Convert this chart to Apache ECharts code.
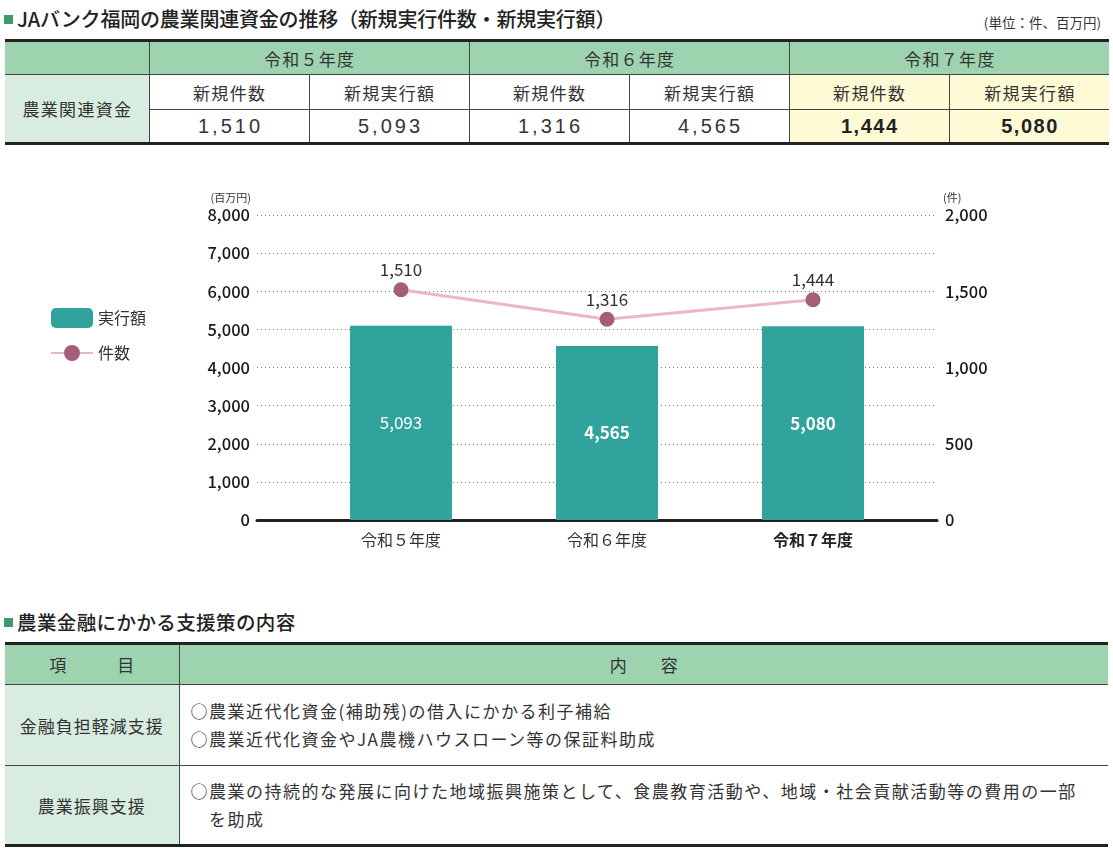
<!DOCTYPE html>
<html><head><meta charset="utf-8">
<script src="https://cdn.jsdelivr.net/npm/echarts@6/dist/echarts.min.js"></script>
<style>
html,body{margin:0;padding:0;background:#fff;}
body{width:1113px;height:851px;position:relative;overflow:hidden;font-family:"Noto Sans CJK JP","Noto Sans",sans-serif;color:#333;}
.ttl{position:absolute;left:4px;font-size:20px;font-weight:500;color:#222;white-space:nowrap;letter-spacing:-0.2px;}
.ttl .sq{display:inline-block;width:9px;height:9px;background:#3f9a6c;margin-right:4px;vertical-align:3px;}
.unit{position:absolute;right:12px;top:12px;font-size:13.5px;color:#333;}
table{position:absolute;border-collapse:collapse;table-layout:fixed;}
td{border:1px solid #444;padding:0;text-align:center;}
.t1{left:5px;top:39px;width:1103px;border-top:3px solid #222;border-bottom:3px solid #222;}
.t1 td{font-size:17px;color:#333;letter-spacing:1.3px;padding-left:1.3px;}
.t1 td.num{font-family:"Liberation Sans",Arial,sans-serif;font-size:20px;letter-spacing:3px;padding-left:3px;color:#333;}
.t1 td.num.b{font-weight:bold;letter-spacing:1.5px;padding-left:1.5px;color:#222;}
.hd{background:#9ed3af;}
.lb{background:#d8ede0;}
.yl{background:#fffad6;}
.t2{left:5px;top:642px;width:1103px;border-top:3px solid #222;border-bottom:3px solid #222;}
.t2 td{font-size:17px;letter-spacing:1px;}
.t2 .txt{text-align:left;padding-left:11px;line-height:28px;color:#333;letter-spacing:1.5px;}
.t1 tr td:first-child,.t2 tr td:first-child{border-left:none;}
.t1 tr td:last-child,.t2 tr td:last-child{border-right:none;}
#chart{position:absolute;left:0;top:150px;width:1113px;height:430px;}
</style></head>
<body>
<div class="ttl" style="top:4px;"><span class="sq"></span>JAバンク福岡の農業関連資金の推移（新規実行件数・新規実行額）</div>
<div class="unit">(単位：件、百万円)</div>
<table class="t1" id="t1"></table>
<div id="chart"></div>
<div class="ttl" style="top:607px;font-size:19.5px;letter-spacing:0.4px;"><span class="sq"></span>農業金融にかかる支援策の内容</div>
<table class="t2">
<colgroup><col style="width:174px"><col></colgroup>
<tr style="height:41px"><td class="hd" style="letter-spacing:0">項　　　目</td><td class="hd" style="letter-spacing:0">内　　容</td></tr>
<tr style="height:81px"><td class="lb">金融負担軽減支援</td><td class="txt">○農業近代化資金(補助残)の借入にかかる利子補給<br>○農業近代化資金やJA農機ハウスローン等の保証料助成</td></tr>
<tr style="height:80px"><td class="lb">農業振興支援</td><td class="txt">○農業の持続的な発展に向けた地域振興施策として、食農教育活動や、地域・社会貢献活動等の費用の一部<br>　を助成</td></tr>
</table>
<script>
// ---- data ----
var categories = ['令和５年度', '令和６年度', '令和７年度'];
var amountValues = [5093, 4565, 5080];   // 新規実行額（百万円）
var countValues = [1510, 1316, 1444];    // 新規件数（件）
var leftTicks = ['0','1,000','2,000','3,000','4,000','5,000','6,000','7,000','8,000'];
var rightTicks = ['0','500','1,000','1,500','2,000'];
var currentIndex = 2;

// ---- top table ----
function fmt(v){return v.toLocaleString('en-US');}
(function(){
  var t = document.getElementById('t1');
  var h = '<colgroup><col style="width:144px">';
  for (var i=0;i<6;i++) h += '<col style="width:160px">';
  h += '</colgroup><tr style="height:34px"><td class="hd"></td>';
  categories.forEach(function(c){ h += '<td class="hd" colspan="2">'+c+'</td>'; });
  h += '</tr><tr style="height:35px"><td class="lb" rowspan="2">農業関連資金</td>';
  categories.forEach(function(c,i){
    var cls = i===currentIndex?' class="yl"':'';
    h += '<td'+cls+'>新規件数</td><td'+cls+'>新規実行額</td>';
  });
  h += '</tr><tr style="height:34px">';
  categories.forEach(function(c,i){
    var cls = i===currentIndex?' class="num yl b"':' class="num"';
    h += '<td'+cls+'>'+fmt(countValues[i])+'</td><td'+cls+'>'+fmt(amountValues[i])+'</td>';
  });
  h += '</tr>';
  t.innerHTML = h;
})();

// ---- chart ----
var chart = echarts.init(document.getElementById('chart'), null, {renderer:'canvas'});
var FONT = '"Noto Sans CJK JP", "Noto Sans", sans-serif';
var option = {
  animation:false,
  textStyle:{fontFamily:FONT},
  legend:{
    orient:'vertical', left:50, top:158, padding:0, itemWidth:42, itemHeight:20, itemGap:17,
    textStyle:{fontSize:16,color:'#333',fontFamily:FONT},
    data:[{name:'実行額'},{name:'件数'}]
  },
  grid:[
    {left:257, right:176, top:65, bottom:60, containLabel:false},
    {left:298, right:197, top:65, bottom:60, containLabel:false}
  ],
  xAxis:[
    {type:'category', gridIndex:0, data:categories, axisLine:{lineStyle:{color:'#222',width:3}}, axisTick:{show:false}, axisLabel:{show:false}, splitLine:{show:false}},
    {type:'category', gridIndex:1, data:categories.map(function(c,i){return {value:c, textStyle:{fontWeight:i===currentIndex?'bold':'normal', color:i===currentIndex?'#222':'#333'}};}),
     axisLine:{show:false}, axisTick:{show:false}, axisLabel:{fontSize:16, margin:12, fontFamily:FONT}}
  ],
  yAxis:[
    {type:'value', gridIndex:0, min:0, max:8000, interval:1000, position:'left',
     name:'(百万円)', nameLocation:'end', nameGap:12, nameTextStyle:{fontSize:11,color:'#333',align:'right',padding:[0,6,0,0]},
     axisLine:{show:false}, axisTick:{show:false},
     axisLabel:{fontSize:16.5, color:'#1a1a1a', margin:7, fontWeight:500, formatter:function(v){return leftTicks[Math.round(v/1000)];}},
     splitLine:{show:true, lineStyle:{color:'#777', type:[1,3], width:1}}},
    {type:'value', gridIndex:0, min:0, max:2000, interval:500, position:'right',
     name:'(件)', nameLocation:'end', nameGap:12, nameTextStyle:{fontSize:11,color:'#333',align:'left',padding:[0,0,0,6]},
     axisLine:{show:false}, axisTick:{show:false},
     axisLabel:{fontSize:16.5, color:'#1a1a1a', margin:8, fontWeight:500, formatter:function(v){return rightTicks[Math.round(v/500)];}},
     splitLine:{show:false}},
    {type:'value', gridIndex:1, min:0, max:8000, interval:1000, show:false, splitLine:{show:false}},
    {type:'value', gridIndex:1, min:0, max:2000, interval:500, show:false, splitLine:{show:false}}
  ],
  series:[
    {name:'実行額', type:'bar', xAxisIndex:1, yAxisIndex:2, barWidth:102,
     itemStyle:{color:'#2fa39c'},
     data:amountValues.map(function(v,i){return {value:v, label:{fontWeight:i===0?'normal':'bold'}};}),
     label:{show:true, position:'inside', color:'#fff', fontSize:17, fontFamily:FONT, formatter:function(p){return fmt(p.value);}}},
    {name:'件数', type:'line', xAxisIndex:1, yAxisIndex:3, data:countValues,
     symbol:'circle', symbolSize:15,
     lineStyle:{color:'#ebb8c0', width:3},
     itemStyle:{color:'#a65d7c'},
     label:{show:true, position:'top', distance:4, color:'#333', fontSize:17, fontFamily:FONT, formatter:function(p){return fmt(p.value);}}}
  ]
};
chart.setOption(option);
</script>
</body></html>
